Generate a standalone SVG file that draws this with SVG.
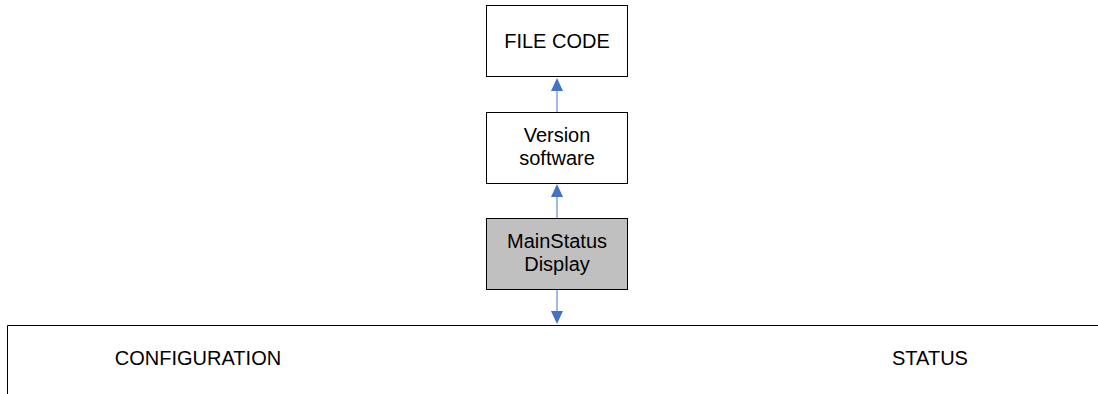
<svg xmlns="http://www.w3.org/2000/svg" width="1098" height="394" viewBox="0 0 1098 394">
<style>
.box{stroke:#000;stroke-width:1;fill:#fff}
.gray{fill:#c0c0c0}
text{font-family:"Liberation Sans",Arial,sans-serif;font-size:20px;fill:#000;text-anchor:middle}
.conn{stroke:#7ea3dc;stroke-width:1.5;fill:none}
.head{fill:#4472c4}
</style>
<rect width="1098" height="394" fill="#fff"/>
<g id="file-code"><rect class="box" x="486.5" y="5.5" width="141" height="71"/><text x="557" y="48">FILE CODE</text></g>
<g id="version-software"><rect class="box" x="486.5" y="112.5" width="141" height="71"/><text x="557" y="142">Version</text><text x="557" y="165">software</text></g>
<g id="mainstatus-display"><rect class="box gray" x="486.5" y="218.5" width="141" height="71"/><text x="557" y="248">MainStatus</text><text x="557" y="271">Display</text></g>
<g id="bottom-panel"><path d="M7.5 394V325.5H1098" stroke="#000" stroke-width="1" fill="none"/><text x="198" y="365">CONFIGURATION</text><text x="930" y="365">STATUS</text></g>
<g id="connectors">
<line class="conn" x1="557" y1="112" x2="557" y2="90"/><polygon class="head" points="557,78 551,91 563,91"/>
<line class="conn" x1="557" y1="218" x2="557" y2="196"/><polygon class="head" points="557,184 551,197 563,197"/>
<line class="conn" x1="557" y1="290" x2="557" y2="312"/><polygon class="head" points="557,324 551,311 563,311"/>
</g>
</svg>
